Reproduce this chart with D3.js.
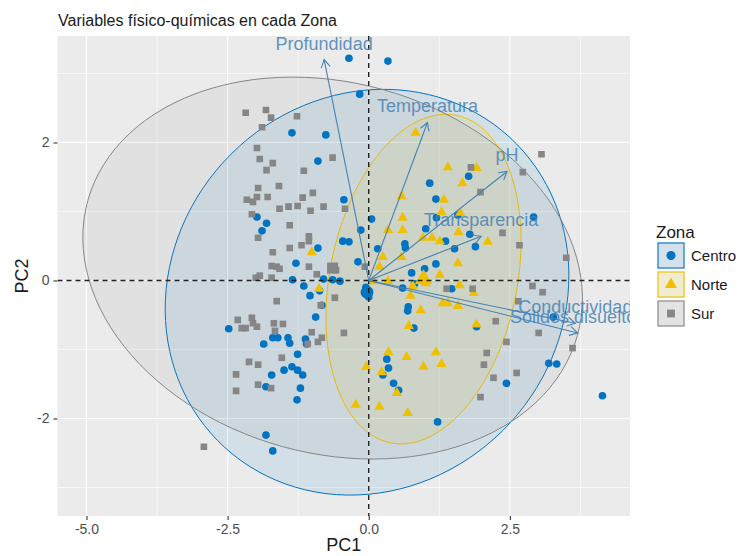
<!DOCTYPE html>
<html>
<head>
<meta charset="utf-8">
<script src="https://cdn.jsdelivr.net/npm/d3@7"></script>
<style>
  body { margin: 0; background: #fff; }
  svg { display: block; font-family: "Liberation Sans", Arial, sans-serif; }
</style>
</head>
<body>
<svg id="chart" width="738" height="556"></svg>
<script>
// ---- data -------------------------------------------------------------
const zonas = ["Centro", "Norte", "Sur"];
const zonaColors = ["#0073C2", "#EFC000", "#868686"];

const xTicks = [-5, -2.5, 0, 2.5];
const yTicks = [-2, 0, 2];
const xMinor = [-3.75, -1.25, 1.25, 3.75];
const yMinor = [-3, -1, 1, 3];

// individual scores [PC1, PC2] per zone
const centro = [[-0.35,3.22],[0.34,3.18],[-0.16,2.70],[-1.36,2.14],[-0.76,2.11],[-0.90,1.73],[-0.44,1.17],
  [-1.98,0.92],[-1.81,0.83],[-1.89,0.72],[-0.14,0.73],[0.05,0.89],[-0.46,0.57],[-0.35,0.56],[-0.90,0.47],
  [0.16,0.46],[0.64,0.53],[0.65,0.47],[1.08,1.41],[1.19,1.18],[1.77,1.51],[1.01,0.75],[1.20,0.91],[1.58,0.95],
  [1.79,0.67],[1.36,0.57],[1.52,0.46],[1.89,0.49],[2.92,0.92],[-1.29,0.25],[-0.19,0.27],[1.19,0.24],[0.99,0.17],
  [0.76,0.11],[-1.35,0.01],[-0.80,0.02],[-0.64,0.01],[-0.51,-0.01],[-1.15,-0.08],[-1.04,-0.22],[-0.87,-0.15],
  [-0.83,-0.36],[-0.94,-0.53],[-0.05,-0.10],[0.00,-0.24],[0.60,-0.11],[0.81,-0.05],[1.47,-0.12],[0.70,-0.38],
  [0.69,-0.44],[0.80,-0.69],[1.91,-0.67],[3.27,-0.53],[-2.48,-0.70],[-1.86,-0.92],[-1.70,-0.83],[-1.61,-0.83],
  [-1.43,-0.83],[-1.40,-0.91],[-1.12,-0.85],[-1.10,-0.92],[-1.26,-1.07],[-1.50,-1.30],[-1.36,-1.25],[-1.26,-1.30],
  [-1.17,-1.37],[-1.72,-1.37],[-1.82,-1.54],[-1.21,-1.56],[-1.27,-1.73],[-1.82,-2.24],[-1.70,-2.47],[0.32,-1.14],
  [0.35,-1.27],[0.25,-1.37],[0.44,-1.49],[0.53,-1.59],[2.44,-1.49],[3.19,-1.20],[3.33,-1.21],[4.14,-1.67],[1.22,-2.05]];

const norte = [[0.83,2.14],[1.40,1.64],[1.91,1.63],[1.66,1.41],[0.58,1.22],[1.33,1.17],[1.62,0.98],[0.60,0.91],
  [0.60,0.73],[0.34,0.73],[1.29,0.99],[1.59,0.70],[0.96,0.62],[1.12,0.62],[1.26,0.57],[2.11,0.56],[-1.01,0.41],
  [0.25,0.34],[0.58,0.34],[0.19,0.20],[1.58,0.25],[1.01,-0.04],[0.09,-0.01],[0.34,-0.01],[1.26,0.08],[1.61,-0.07],
  [0.78,-0.08],[0.74,-0.22],[1.86,-0.18],[1.31,-0.33],[1.40,-0.33],[1.58,-0.37],[0.92,-0.43],[0.71,-0.66],
  [1.91,-0.64],[-0.88,-0.12],[0.35,-1.04],[0.67,-1.11],[1.19,-1.04],[0.97,-1.25],[1.29,-1.21],[-0.04,-1.25],
  [0.23,-1.33],[0.50,-1.63],[-0.23,-1.80],[0.19,-1.83],[0.69,-1.92]];

const sur = [[-2.18,2.43],[-1.82,2.47],[-1.73,2.36],[-1.89,2.22],[-1.27,2.38],[-1.98,1.92],[-1.93,1.76],
  [-1.70,1.70],[-1.81,1.60],[-1.15,1.59],[-0.64,1.78],[-1.59,1.37],[-1.96,1.34],[-1.98,1.21],[-1.79,1.21],
  [-2.16,1.17],[-2.05,1.14],[-1.17,1.20],[-0.99,1.27],[-1.42,1.07],[-1.26,1.08],[-1.58,1.04],[-0.80,1.07],
  [-0.42,1.04],[-1.03,1.01],[-2.07,0.96],[-1.40,0.80],[-1.06,0.64],[-1.06,0.57],[-1.96,0.62],[-1.19,0.51],
  [-1.40,0.47],[-1.70,0.41],[-1.72,0.21],[-1.63,0.20],[-1.58,0.17],[-1.06,0.20],[-0.58,0.15],[-0.92,0.09],
  [-2.00,0.04],[-1.93,0.07],[-1.72,0.04],[-0.07,0.20],[-0.60,-0.25],[-1.63,-0.30],[-0.85,-0.36],[-2.32,-0.57],
  [-2.07,-0.54],[-2.05,-0.62],[-2.25,-0.69],[-2.18,-0.69],[-1.98,-0.67],[-1.68,-0.62],[-1.52,-0.63],[-1.66,-0.73],
  [-1.01,-0.75],[-0.83,-0.83],[-0.90,-0.89],[-1.08,-0.92],[-0.44,-0.76],[-1.54,-1.12],[-2.12,-1.18],[-1.96,-1.22],
  [-2.35,-1.36],[-1.96,-1.51],[-1.73,-1.56],[-2.35,-1.60],[-2.92,-2.41],[3.06,1.83],[2.73,1.57],[1.98,1.28],
  [1.81,1.64],[2.37,0.69],[2.67,0.51],[3.50,0.33],[1.38,-0.12],[1.84,-0.12],[2.90,-0.08],[3.08,-0.17],[2.65,-0.30],
  [2.25,-0.59],[3.01,-0.76],[2.44,-0.89],[3.61,-0.98],[2.09,-1.05],[2.04,-1.22],[2.62,-1.34],[2.21,-1.41],[1.98,-1.69]];

// group means (centres of the concentration ellipses)
const meanPC1 = [-0.03, 0.97, -0.64];
const meanPC2 = [-0.17, 0.02, 0.18];
// ellipse semi-axes (PC units) and rotation (degrees)
const ellipseA = [3.60, 2.45, 4.46];
const ellipseB = [2.91, 1.64, 2.71];
const ellipseAngle = [11.4, 72.6, -9.1];

// variable loadings (arrow tips)
const variables = ["Profundidad", "Temperatura", "pH", "Transparencia", "Conductividad", "Solidos disueltos"];
const loadPC1 = [-0.79, 1.04, 2.45, 1.99, 3.66, 3.70];
const loadPC2 = [3.20, 2.29, 1.58, 0.64, -0.62, -0.76];

// ---- layout -----------------------------------------------------------
const svg = d3.select("#chart");
const panel = { left: 57.5, right: 630, top: 36, bottom: 516 };

const x = d3.scaleLinear().domain([-5.513, 4.628]).range([panel.left, panel.right]);
const y = d3.scaleLinear().domain([-3.413, 3.543]).range([panel.bottom, panel.top]);

// ASCII hyphen for negative tick labels
const hyphen = f => d => f(d).replace("\u2212", "-");

svg.append("rect").attr("width", 738).attr("height", 556).attr("fill", "#fff");

svg.append("text")
  .attr("x", 58).attr("y", 26)
  .attr("font-size", 16).attr("fill", "#1a1a1a")
  .text("Variables físico-químicas en cada Zona");

svg.append("defs").append("clipPath").attr("id", "panelClip")
  .append("rect")
  .attr("x", panel.left).attr("y", panel.top)
  .attr("width", panel.right - panel.left).attr("height", panel.bottom - panel.top);

svg.append("rect")
  .attr("x", panel.left).attr("y", panel.top)
  .attr("width", panel.right - panel.left).attr("height", panel.bottom - panel.top)
  .attr("fill", "#EBEBEB");

const grid = svg.append("g");
grid.selectAll(".vmin").data(xMinor).join("line")
  .attr("x1", d => x(d)).attr("x2", d => x(d))
  .attr("y1", panel.top).attr("y2", panel.bottom)
  .attr("stroke", "#fff").attr("stroke-width", 0.6);
grid.selectAll(".hmin").data(yMinor).join("line")
  .attr("y1", d => y(d)).attr("y2", d => y(d))
  .attr("x1", panel.left).attr("x2", panel.right)
  .attr("stroke", "#fff").attr("stroke-width", 0.6);
grid.selectAll(".vmaj").data(xTicks).join("line")
  .attr("x1", d => x(d)).attr("x2", d => x(d))
  .attr("y1", panel.top).attr("y2", panel.bottom)
  .attr("stroke", "#fff").attr("stroke-width", 1.2);
grid.selectAll(".hmaj").data(yTicks).join("line")
  .attr("y1", d => y(d)).attr("y2", d => y(d))
  .attr("x1", panel.left).attr("x2", panel.right)
  .attr("stroke", "#fff").attr("stroke-width", 1.2);

const plot = svg.append("g").attr("clip-path", "url(#panelClip)");

// concentration ellipses
function ellipsePoints(i) {
  const th = ellipseAngle[i] * Math.PI / 180;
  return d3.range(0, 361, 3).map(t => {
    const r = t * Math.PI / 180;
    const u = ellipseA[i] * Math.cos(r), v = ellipseB[i] * Math.sin(r);
    return [meanPC1[i] + u * Math.cos(th) - v * Math.sin(th),
            meanPC2[i] + u * Math.sin(th) + v * Math.cos(th)];
  });
}
const ellLine = d3.line().x(d => x(d[0])).y(d => y(d[1]));
zonas.forEach((z, i) => {
  plot.append("path")
    .attr("d", ellLine(ellipsePoints(i)) + "Z")
    .attr("fill", zonaColors[i]).attr("fill-opacity", 0.1)
    .attr("stroke", zonaColors[i]).attr("stroke-width", 1);
});

// individuals
const symbolTypes = [d3.symbolCircle, d3.symbolTriangle, d3.symbolSquare];
const symbolSizes = [46, 46, 44];
[centro, norte, sur].forEach((pts, i) => {
  plot.append("g").selectAll("path").data(pts).join("path")
    .attr("transform", d => `translate(${x(d[0])},${y(d[1])})`)
    .attr("d", d3.symbol().type(symbolTypes[i]).size(symbolSizes[i]))
    .attr("fill", zonaColors[i]);
});

// group means
zonas.forEach((z, i) => {
  plot.append("path")
    .attr("transform", `translate(${x(meanPC1[i])},${y(meanPC2[i])})`)
    .attr("d", d3.symbol().type(symbolTypes[i]).size(symbolSizes[i] * 2.8))
    .attr("fill", zonaColors[i]);
});

// reference lines through the origin
plot.append("line")
  .attr("x1", panel.left).attr("x2", panel.right)
  .attr("y1", y(0)).attr("y2", y(0))
  .attr("stroke", "#222").attr("stroke-width", 1.4).attr("stroke-dasharray", "5,4");
plot.append("line")
  .attr("y1", panel.top).attr("y2", panel.bottom)
  .attr("x1", x(0)).attr("x2", x(0))
  .attr("stroke", "#222").attr("stroke-width", 1.4).attr("stroke-dasharray", "5,4");

// variable arrows
const arrowColor = "#4682B4";
variables.forEach((v, i) => {
  const x0 = x(0), y0 = y(0), x1 = x(loadPC1[i]), y1 = y(loadPC2[i]);
  const ang = Math.atan2(y1 - y0, x1 - x0);
  const head = 9, spread = Math.PI / 6;
  const g = plot.append("g").attr("stroke", arrowColor).attr("stroke-width", 1.1).attr("fill", "none");
  g.append("line").attr("x1", x0).attr("y1", y0).attr("x2", x1).attr("y2", y1);
  g.append("path").attr("d",
    `M${x1 - head * Math.cos(ang - spread)},${y1 - head * Math.sin(ang - spread)}` +
    `L${x1},${y1}` +
    `L${x1 - head * Math.cos(ang + spread)},${y1 - head * Math.sin(ang + spread)}`);
});
variables.forEach((v, i) => {
  plot.append("text")
    .attr("x", x(loadPC1[i])).attr("y", y(loadPC2[i]) - 10)
    .attr("text-anchor", "middle")
    .attr("font-size", 18).attr("fill", arrowColor).attr("fill-opacity", 0.85)
    .text(v);
});

// axes
const xAxis = svg.append("g").attr("transform", `translate(0,${panel.bottom})`)
  .call(d3.axisBottom(x).tickValues(xTicks).tickFormat(hyphen(d3.format(".1f"))).tickSize(4).tickPadding(4));
const yAxis = svg.append("g").attr("transform", `translate(${panel.left},0)`)
  .call(d3.axisLeft(y).tickValues(yTicks).tickFormat(hyphen(d3.format("d"))).tickSize(4).tickPadding(4));
[xAxis, yAxis].forEach(a => {
  a.select(".domain").remove();
  a.selectAll(".tick line").attr("stroke", "#333").attr("stroke-width", 1.1);
  a.selectAll(".tick text").attr("fill", "#4D4D4D").attr("font-size", 14)
    .attr("font-family", "'Liberation Sans', Arial, sans-serif");
});

svg.append("text")
  .attr("x", (panel.left + panel.right) / 2).attr("y", 551)
  .attr("text-anchor", "middle").attr("font-size", 18).attr("fill", "#1a1a1a")
  .text("PC1");
svg.append("text")
  .attr("transform", `translate(28,${(panel.top + panel.bottom) / 2}) rotate(-90)`)
  .attr("text-anchor", "middle").attr("font-size", 18).attr("fill", "#1a1a1a")
  .text("PC2");

// legend
const legend = svg.append("g");
legend.append("text").attr("x", 656).attr("y", 238)
  .attr("font-size", 17).attr("fill", "#1a1a1a").text("Zona");
zonas.forEach((z, i) => {
  const ky = 242 + i * 29;
  legend.append("rect").attr("x", 657).attr("y", ky).attr("width", 28).attr("height", 27)
    .attr("fill", "#F2F2F2");
  legend.append("rect").attr("x", 658).attr("y", ky + 1).attr("width", 26).attr("height", 25)
    .attr("fill", zonaColors[i]).attr("fill-opacity", 0.13)
    .attr("stroke", zonaColors[i]).attr("stroke-width", 1.1);
  legend.append("path")
    .attr("transform", `translate(671,${ky + 13.5})`)
    .attr("d", d3.symbol().type(symbolTypes[i]).size(symbolSizes[i] * 1.4))
    .attr("fill", zonaColors[i]);
  legend.append("text").attr("x", 691).attr("y", ky + 19)
    .attr("font-size", 15).attr("fill", "#1a1a1a").text(z);
});
</script>
</body>
</html>
